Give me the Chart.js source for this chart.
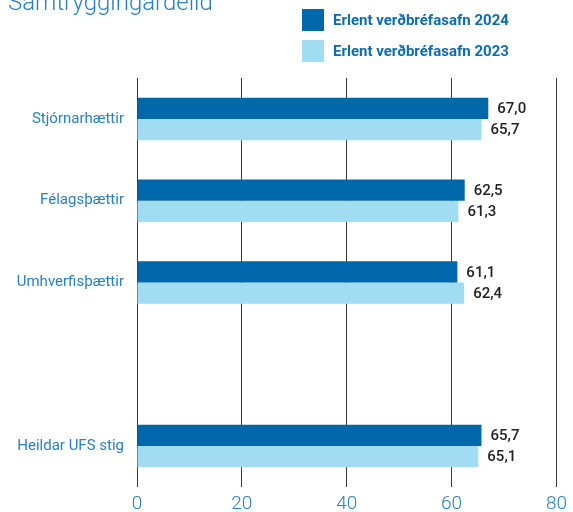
<!DOCTYPE html>
<html lang="is">
<head>
<meta charset="utf-8">
<title>Samtryggingardeild</title>
<script src="https://cdn.jsdelivr.net/npm/chart.js@4"></script>
<style>
  html, body { margin: 0; padding: 0; background: #fff; }
  canvas { display: block; }
</style>
</head>
<body>
<canvas id="ufsChart" width="573" height="512"></canvas>
<script>
const chartTitle = 'Samtryggingardeild';
const categories = ['Stjórnarhættir', 'Félagsþættir', 'Umhverfisþættir', '', 'Heildar UFS stig'];
const seriesNames = ['Erlent verðbréfasafn 2024', 'Erlent verðbréfasafn 2023'];
const values2024 = [67.0, 62.5, 61.1, null, 65.7];
const values2023 = [65.7, 61.3, 62.4, null, 65.1];
const xTicks = [0, 20, 40, 60, 80];

const darkBlue = '#0068aa';
const lightBlue = '#a1dcf3';
const labelBlue = '#2a7fc0';
const fontFamily = 'Roboto, "Noto Sans", sans-serif';

const fmt = v => v.toFixed(1).replace('.', ',');

// numbers at the end of each bar
const valueLabels = {
  id: 'valueLabels',
  afterDatasetsDraw(chart) {
    const ctx = chart.ctx;
    ctx.save();
    ctx.font = '500 15px ' + fontFamily;
    ctx.fillStyle = '#222';
    ctx.textBaseline = 'middle';
    ctx.textAlign = 'left';
    chart.data.datasets.forEach((ds, i) => {
      chart.getDatasetMeta(i).data.forEach((bar, j) => {
        const v = ds.data[j];
        if (v == null) return;
        ctx.fillText(fmt(v), bar.x + 9, bar.y + 1);
      });
    });
    ctx.restore();
  }
};

// title and legend block at the top
const header = {
  id: 'header',
  afterDraw(chart) {
    const ctx = chart.ctx;
    ctx.save();
    ctx.font = '300 24px ' + fontFamily;
    ctx.fillStyle = labelBlue;
    ctx.textBaseline = 'alphabetic';
    ctx.fillText(chartTitle, 8, 10);

    ctx.font = 'bold 15px ' + fontFamily;
    ctx.textBaseline = 'middle';
    chart.data.datasets.forEach((ds, i) => {
      const y = 9 + i * 31;
      ctx.fillStyle = ds.backgroundColor;
      ctx.fillRect(302, y, 22, 22);
      ctx.fillStyle = '#0d6cb0';
      ctx.fillText(ds.label, 333, y + 12);
    });
    ctx.restore();
  }
};

new Chart(document.getElementById('ufsChart'), {
  type: 'bar',
  data: {
    labels: categories,
    datasets: [
      { label: seriesNames[0], data: values2024, backgroundColor: darkBlue },
      { label: seriesNames[1], data: values2023, backgroundColor: lightBlue }
    ]
  },
  options: {
    indexAxis: 'y',
    responsive: false,
    animation: false,
    datasets: {
      bar: { barPercentage: 1, categoryPercentage: 0.52 }
    },
    layout: { padding: { top: 78, right: 12, left: 0, bottom: 0 } },
    plugins: {
      legend: { display: false },
      title: { display: false },
      tooltip: { enabled: false }
    },
    scales: {
      x: {
        min: 0,
        max: 80,
        afterBuildTicks: scale => { scale.ticks = xTicks.map(v => ({ value: v })); },
        afterFit: scale => { scale.height = 25; },
        grid: { color: '#3a3a3a', lineWidth: 1, drawTicks: false },
        border: { display: false },
        ticks: {
          color: labelBlue,
          padding: 6,
          font: { family: fontFamily, size: 19, weight: 300 }
        }
      },
      y: {
        afterFit: scale => { scale.width = 137; },
        grid: { display: false, drawTicks: false },
        border: { display: false },
        ticks: {
          color: labelBlue,
          padding: 13,
          font: { family: fontFamily, size: 15 }
        }
      }
    }
  },
  plugins: [valueLabels, header]
});
</script>
</body>
</html>
